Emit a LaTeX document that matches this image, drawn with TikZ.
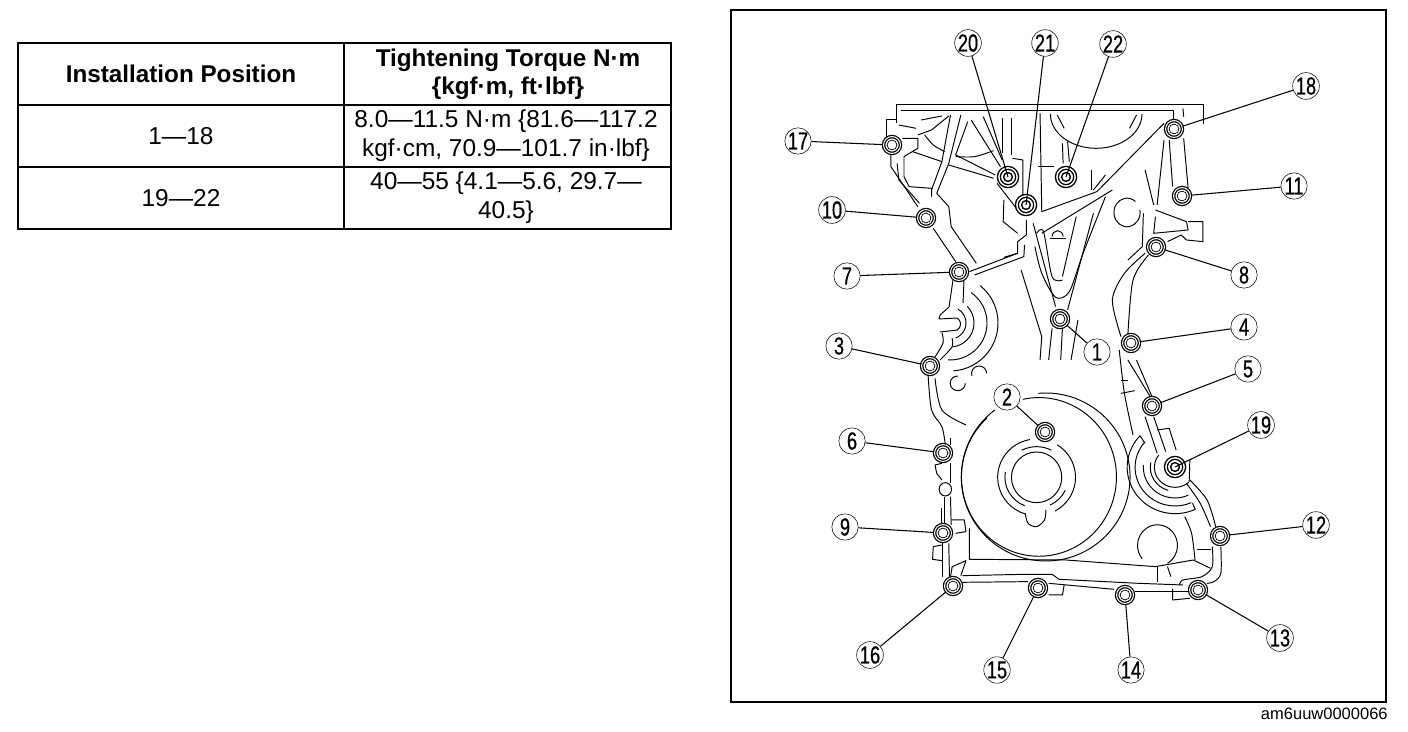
\documentclass[tikz,border=0pt]{standalone}
\usepackage{fontspec}
\setmainfont{Liberation Sans}
\newfontfamily\calloutfont[FakeStretch=0.74,FakeBold=0.6]{Liberation Sans}
\tikzset{
	cell/.style={align=center,inner sep=0pt,font=\fontsize{13.9}{16.4}\selectfont},
	headcell/.style={align=center,inner sep=0pt,font=\fontsize{13.8}{16}\selectfont\bfseries},
	bolt/.style={circle,draw,fill=white,inner sep=0pt,minimum size=9.6pt,line width=.7pt,double,double distance=.6pt,path picture={\draw[line width=.4pt](path picture bounding box.center) circle (2.8pt);}},
	bigbolt/.style={bolt,minimum size=10.4pt,line width=.8pt,double distance=.8pt,path picture={\draw[line width=.8pt](path picture bounding box.center) circle (2.5pt);}},
	callout/.style={circle,draw,fill=white,inner sep=0pt,minimum size=15pt,line width=.3pt,font=\calloutfont\fontsize{14}{14}\selectfont},
	leader/.style={line width=.6pt},
	cover/.style={line width=.55pt,line join=round},
	topview/.style={shift={(780,20)},xscale=.3444,yscale=.3333},
	lowview/.style={shift={(780,350)},xscale=.3444,yscale=.3333}
}
\begin{document}
\begin{tikzpicture}[x=.02cm,y=-.02cm]
	\useasboundingbox (0,0) rectangle (1408,732);
	% torque table
	\draw[line width=1.5pt](18,43) rectangle (671,229);
	\draw[line width=.9pt](18,105)--(671,105);
	\draw[line width=.9pt](18,167)--(671,167);
	\draw[line width=.9pt](344,43)--(344,229);
	\node[headcell] (head1) at (181,74) {Installation Position};
	\node[headcell] (head2) at (508,74) {Tightening Torque N·m\\\{kgf·m, ft·lbf\}};
	\node[cell] (row1a) at (181,136) {1—18};
	\node[cell] (row1b) at (506,136) {8.0—11.5 N·m \{81.6—117.2\\kgf·cm, 70.9—101.7 in·lbf\}};
	\node[cell] (row2a) at (181,198) {19—22};
	\node[cell] (row2b) at (506,198) {40—55 \{4.1—5.6, 29.7—\\40.5\}};
	% frame
	\draw[line width=.6pt](731,10) rectangle (1386,702);
	\node[anchor=east,inner sep=0pt,font=\fontsize{9.4}{10}\selectfont] (code) at (1388,714) {am6uuw0000066};
	% upper half of the cover
	\begin{scope}[topview,cover]
		\draw(338,310)--(338,253)--(1230,253)--(1230,312);
		\draw[line width=.8pt](350,272)--(1142,272)--(1142,300);
		\draw(1170,265)--(1172,290);
		\draw(338,300)--(310,300)--(310,350);
		\draw(322,400)--(322,440)--(400,560);
		\draw(340,430)--(345,480)--(405,550);
		\draw(355,355)--(400,355)--(400,385)--(360,410)--(360,470)--(375,500)--(440,505)--(440,530);
		\draw(385,395)--(470,425);
		\draw(525,285)--(490,430)--(455,520)--(490,560)--(497,620)--(570,730);
		\draw(495,285)--(470,425)--(440,510);
		\draw(445,625)--(510,725);
		\draw(345,315)--(395,325);
		\draw(410,300)--(470,288);
		\draw(400,345)--(440,330)--(490,288);
		\draw plot[smooth] coordinates {(420,345)(445,375)(478,395)};
		\draw(545,305)--(510,405)--(625,465);
		\draw(555,300)--(640,440);
		\draw(590,290)--(645,420);
		\draw plot[smooth] coordinates {(510,410)(565,410)(620,392)};
		\draw(490,435)--(620,475);
		\draw(645,295)--(645,400);
		\draw(672,295)--(672,405);
		\draw(675,415)--(705,420)--(705,525);
		\draw(630,490)--(690,570);
		\draw(650,540)--(648,605)--(690,640);
		\draw(715,600)--(715,645)--(690,665)--(690,700)--(550,755);
		\draw(710,675)--(708,710)--(565,765);
		\draw(650,712)--(690,700);
		\draw(755,280)--(760,575)--(920,515)--(1115,310);
		\draw(965,510)--(760,640);
		\draw(918,282) ++(180:133 and 103) arc[start angle=180,end angle=0,x radius=133,y radius=103];
		\draw(805,285) ++(0,0) -- (825,325);
		\draw(1035,285)--(1015,325);
		\draw(750,440)--(795,440);
		\draw(820,370)--(822,430);
		\draw(835,365)--(840,425);
		\draw(905,450)--(905,510);
		\draw(945,465)--(910,510);
		\draw(1130,360)--(1140,500);
		\draw(1172,355)--(1185,505);
		\draw(1115,360)--(1095,555);
		\draw(1060,450)--(1085,555);
		\draw(1045,570) arc[start angle=-10,end angle=310,x radius=38,y radius=43];
		\draw(1090,570)--(1180,605)--(1185,630)--(1085,640)--(1090,590);
		\draw(1185,605)--(1228,605)--(1228,665)--(1180,660)--(1165,645)--(1125,665);
		\draw(1055,580)--(1052,680)--(1010,720);
		\draw plot[smooth] coordinates {(1070,705)(1025,780)(1010,945)};
		\draw plot[smooth] coordinates {(1060,700)(1000,760)(965,840)(990,950)};
		\draw(735,610)--(800,860);
		\draw plot[smooth] coordinates {(745,640)(765,635)(790,770)(820,780)};
		\draw(860,590)--(820,770);
		\draw plot[smooth] coordinates {(945,530)(880,700)(840,815)(800,832)(760,760)(740,680)};
		\draw(910,580)--(835,870);
		\draw(790,650) arc[start angle=180,end angle=360,x radius=16,y radius=18];
		\draw(785,655)--(830,655);
		\draw(700,750)--(760,950)--(755,1020);
		\draw(790,925)--(780,1020);
		\draw(820,925)--(815,1020);
		\draw(865,900)--(845,1020);
	\end{scope}
	% notch under bolt 7
	\begin{scope}[cover]
		\draw(953,280)--(949,307)--(940,315)--(939,319)--(957,318) arc[start angle=-60,end angle=60,radius=7]--(940,332);
		\draw(964,280)--(963,303);
		\draw(950,323) ++(-60:16) arc[start angle=-60,end angle=70,radius=16];
		\draw(950,323) ++(-44:24) arc[start angle=-44,end angle=83,radius=24];
		\draw(950,323) ++(-55:37) arc[start angle=-55,end angle=93,radius=37];
		\draw(950,323) ++(-51:48) arc[start angle=-51,end angle=86,radius=48];
		\draw plot[smooth] coordinates {(942,333)(943,343)(935,357)};
		\draw plot[smooth] coordinates {(952,338)(952,347)(940,360)};
	\end{scope}
	% lower half of the cover
	\begin{scope}[lowview,cover]
		\draw plot[smooth] coordinates {(430,75)(440,180)(470,230)(480,285)};
		\draw plot[smooth] coordinates {(450,85)(470,180)(540,225)};
		\draw(495,265)--(495,285);
		\draw(538,100) arc[start angle=0,end angle=270,x radius=22,y radius=22];
		\draw(600,70) arc[start angle=0,end angle=-200,x radius=22,y radius=22];
		\draw(750,130) arc[start angle=-95,end angle=233,x radius=245,y radius=252];
		\draw(705,148) arc[start angle=-102,end angle=228,x radius=225,y radius=238];
		\draw(818,382) arc[start angle=0,end angle=360,x radius=73,y radius=76];
		\draw(745,382) ++(260:113 and 115) arc[start angle=260,end angle=107,x radius=113,y radius=115];
		\draw(745,382) ++(-58:113 and 115) arc[start angle=-58,end angle=62,x radius=113,y radius=115];
		\draw(745,382) ++(-118:92 and 92) arc[start angle=-118,end angle=-62,x radius=92,y radius=92];
		\draw(745,382) ++(190:92 and 92) arc[start angle=190,end angle=112,x radius=92,y radius=92];
		\draw(745,382) ++(25:92 and 92) arc[start angle=25,end angle=65,x radius=92,y radius=92];
		\draw plot[smooth] coordinates {(712,490)(720,520)(745,530)(768,510)(772,480)};
		\draw plot[smooth] coordinates {(985,0)(1000,130)(1025,255)};
		\draw(1010,30)--(1075,140);
		\draw(1035,30)--(1080,140);
		\draw(990,90)--(1010,90);
		\draw(990,130)--(1030,122);
		\draw(1060,200)--(1095,310);
		\draw(1085,200)--(1120,305);
		\draw(1095,240)--(1130,235)--(1150,300);
		\draw(1147,352) ++(223:139) arc[start angle=223,end angle=65,x radius=139,y radius=139]--++(-8,-18);
		\draw(1147,352) ++(220:116) arc[start angle=220,end angle=66,x radius=116,y radius=116];
		\draw(1045,257)--(1060,280);
		\draw(1147,352) ++(184:92) arc[start angle=184,end angle=65,x radius=92,y radius=92];
		\draw(1147,352) ++(192:72) arc[start angle=192,end angle=106,x radius=72,y radius=72];
		\draw(1147,352) ++(218:60) arc[start angle=218,end angle=48,x radius=60,y radius=60];
		\draw(1188,396)--(1190,330);
		\draw plot[smooth] coordinates {(1190,390)(1240,450)(1265,530)};
		\draw plot[smooth] coordinates {(1180,400)(1220,460)(1250,530)};
		\draw plot[smooth] coordinates {(1280,590)(1280,670)(1260,695)(1240,700)};
		\draw plot[smooth] coordinates {(1255,590)(1255,650)(1225,680)(1170,690)(1160,705)};
		\draw plot[smooth] coordinates {(1175,500)(1195,550)(1205,630)};
		\draw(1125,640) arc[start angle=60,end angle=-220,x radius=58,y radius=62];
		\draw(1210,600)--(1250,600);
		\draw(550,535)--(550,628)--(830,630)--(1090,650)--(1200,630)--(1250,655);
		\draw(1095,650)--(1095,695);
		\draw(1125,650)--(1135,680);
		\draw(530,677)--(710,673)--(790,673)--(810,688)--(1040,700)--(1170,705);
		\draw(530,697)--(720,695);
		\draw(780,700)--(970,718);
		\draw(1030,725)--(1185,725);
		\draw(780,735)--(820,735)--(825,705);
		\draw(1140,717)--(1140,750)--(1190,745);
		\draw(470,340)--(450,345)--(455,370)--(470,390);
		\draw(498,418) arc[start angle=0,end angle=360,x radius=18,y radius=20];
		\draw(495,340)--(495,400);
		\draw(478,440)--(478,520);
		\draw(495,440)--(497,525);
		\draw(470,475)--(470,525);
		\draw(500,510)--(535,510)--(540,545)--(510,550);
		\draw(470,585)--(445,590)--(443,628)--(470,632);
		\draw(472,575)--(472,680);
		\draw(490,580)--(492,680);
		\draw(495,680)--(500,650)--(540,632)--(525,677);
	\end{scope}
	% bolts, callouts and leaders
	\node[bolt] (b1) at (1060,319) {}; \node[callout] (c1) at (1097,352) {1}; \draw[leader](c1)--(b1);
	\node[bolt] (b2) at (1045,432) {}; \node[callout] (c2) at (1007,397) {2}; \draw[leader](c2)--(b2);
	\node[bolt] (b3) at (930,366) {}; \node[callout] (c3) at (839,346) {3}; \draw[leader](c3)--(b3);
	\node[bolt] (b4) at (1131,343) {}; \node[callout] (c4) at (1244,327) {4}; \draw[leader](c4)--(b4);
	\node[bolt] (b5) at (1152,406) {}; \node[callout] (c5) at (1248,369) {5}; \draw[leader](c5)--(b5);
	\node[bolt] (b6) at (943,453) {}; \node[callout] (c6) at (852,441) {6}; \draw[leader](c6)--(b6);
	\node[bolt] (b7) at (959,272) {}; \node[callout] (c7) at (847,276) {7}; \draw[leader](c7)--(b7);
	\node[bolt] (b8) at (1156,247) {}; \node[callout] (c8) at (1244,275) {8}; \draw[leader](c8)--(b8);
	\node[bolt] (b9) at (943,533) {}; \node[callout] (c9) at (845,527) {9}; \draw[leader](c9)--(b9);
	\node[bolt] (b10) at (926,218) {}; \node[callout] (c10) at (832,210) {10}; \draw[leader](c10)--(b10);
	\node[bolt] (b11) at (1182,196) {}; \node[callout] (c11) at (1294,186) {11}; \draw[leader](c11)--(b11);
	\node[bolt] (b12) at (1220,536) {}; \node[callout] (c12) at (1316,525) {12}; \draw[leader](c12)--(b12);
	\node[bolt] (b13) at (1198,590) {}; \node[callout] (c13) at (1280,638) {13}; \draw[leader](c13)--(b13);
	\node[bolt] (b14) at (1125,595) {}; \node[callout] (c14) at (1131,670) {14}; \draw[leader](c14)--(b14);
	\node[bolt] (b15) at (1038,588) {}; \node[callout] (c15) at (997,670) {15}; \draw[leader](c15)--(b15);
	\node[bolt] (b16) at (953,586) {}; \node[callout] (c16) at (870,655) {16}; \draw[leader](c16)--(b16);
	\node[bolt] (b17) at (892,145) {}; \node[callout] (c17) at (798,141) {17}; \draw[leader](c17)--(b17);
	\node[bolt] (b18) at (1174,129) {}; \node[callout] (c18) at (1306,86) {18}; \draw[leader](c18)--(b18);
	\node[bigbolt] (b19) at (1175,467) {}; \node[callout] (c19) at (1261,425) {19}; \draw[leader](c19)--(b19.center);
	\node[bigbolt] (b20) at (1008,177) {}; \node[callout] (c20) at (968,43) {20}; \draw[leader](c20)--(b20.center);
	\node[bigbolt] (b21) at (1026,205) {}; \node[callout] (c21) at (1045,43) {21}; \draw[leader](c21)--(b21.center);
	\node[bigbolt] (b22) at (1066,177) {}; \node[callout] (c22) at (1113,44) {22}; \draw[leader](c22)--(b22.center);
\end{tikzpicture}
\end{document}
